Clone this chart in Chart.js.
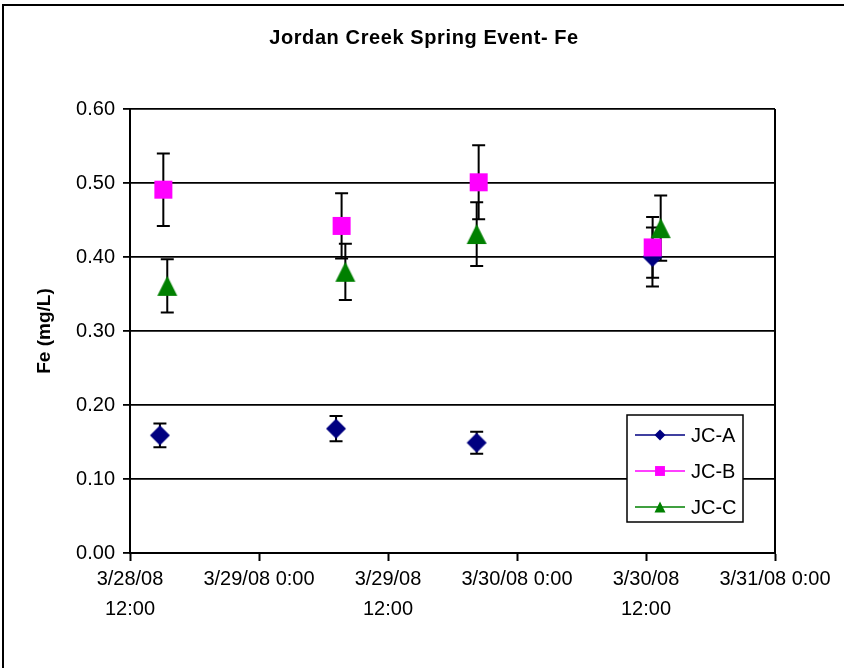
<!DOCTYPE html>
<html>
<head>
<meta charset="utf-8">
<title>Jordan Creek Spring Event- Fe</title>
<script src="https://cdn.jsdelivr.net/npm/chart.js@4/dist/chart.umd.min.js"></script>
<style>
  html, body { margin: 0; padding: 0; background: #fff; }
  #wrap { width: 844px; height: 668px; }
</style>
</head>
<body>
<div id="wrap"><canvas id="chart" width="844" height="668"></canvas></div>
<script>
// Sampling times, Fe concentrations (mg/L) and error-bar half widths per site
const axisStart = "3/28/08 12:00";
const axisEnd = "3/31/08 0:00";
const seriesNames = ["JC-A", "JC-B", "JC-C"];
const timesA = ["3/28/08 14:47", "3/29/08 7:10", "3/29/08 20:15", "3/30/08 12:36"];
const timesB = ["3/28/08 15:06", "3/29/08 7:41", "3/29/08 20:26", "3/30/08 12:37"];
const timesC = ["3/28/08 15:28", "3/29/08 8:02", "3/29/08 20:15", "3/30/08 13:22"];
const feA = [0.159, 0.168, 0.149, 0.400];
const feB = [0.491, 0.442, 0.501, 0.413];
const feC = [0.361, 0.380, 0.431, 0.439];
const errA = [0.016, 0.017, 0.015, 0.040];
const errB = [0.049, 0.044, 0.050, 0.041];
const errC = [0.036, 0.038, 0.043, 0.044];
const xTickLabels = [["3/28/08", "12:00"], "3/29/08 0:00", ["3/29/08", "12:00"], "3/30/08 0:00", ["3/30/08", "12:00"], "3/31/08 0:00"];
const yTickLabels = ["0.00", "0.10", "0.20", "0.30", "0.40", "0.50", "0.60"];

const FONT = "'Liberation Sans', Arial, sans-serif";
const colors = ["#000080", "#FF00FF", "#008000"];
const shapes = ["diamond", "square", "triangle"];

// "M/D/YY H:MM" -> hours since the start of the axis
function toMs(s) {
  const [d, t] = s.split(" ");
  const [m, day, yy] = d.split("/").map(Number);
  const [h, mi] = t.split(":").map(Number);
  return Date.UTC(2000 + yy, m - 1, day, h, mi);
}
const t0 = toMs(axisStart);
const hours = s => (toMs(s) - t0) / 3600000;
const xMax = hours(axisEnd);

function shapePath(ctx, shape, cx, cy, s) {
  ctx.beginPath();
  if (shape === "diamond") {
    ctx.moveTo(cx, cy - s); ctx.lineTo(cx + s, cy); ctx.lineTo(cx, cy + s); ctx.lineTo(cx - s, cy);
  } else if (shape === "square") {
    ctx.rect(cx - s * 0.9, cy - s * 0.9, s * 1.8, s * 1.8);
  } else {
    ctx.moveTo(cx, cy - s); ctx.lineTo(cx + s, cy + s); ctx.lineTo(cx - s, cy + s);
  }
  ctx.closePath();
}

function markerCanvas(shape, color) {
  const c = document.createElement("canvas");
  c.width = 22; c.height = 22;
  const g = c.getContext("2d");
  g.fillStyle = color;
  shapePath(g, shape, 11, 11, 10);
  g.fill();
  return c;
}

function pointsOf(times, vals) {
  return times.map((t, i) => ({ x: hours(t), y: vals[i] }));
}

const allTimes = [timesA, timesB, timesC];
const allVals = [feA, feB, feC];
const allErr = [errA, errB, errC];

const datasets = seriesNames.map((name, i) => ({
  label: name,
  data: pointsOf(allTimes[i], allVals[i]),
  errors: allErr[i],
  showLine: false,
  pointStyle: markerCanvas(shapes[i], colors[i]),
  pointRadius: 10,
  pointHoverRadius: 10,
  borderColor: colors[i],
  backgroundColor: colors[i],
  order: 3 - i
}));

const pageBackground = {
  id: "pageBackground",
  beforeDraw(chart) {
    const { ctx, width, height } = chart;
    ctx.save();
    ctx.fillStyle = "#fff";
    ctx.fillRect(0, 0, width, height);
    ctx.strokeStyle = "#000";
    ctx.lineWidth = 2;
    ctx.beginPath();
    ctx.moveTo(3, height + 2); ctx.lineTo(3, 5); ctx.lineTo(width + 2, 5);
    ctx.stroke();
    ctx.restore();
  }
};

const chartTitle = {
  id: "chartTitle",
  afterDraw(chart) {
    const ctx = chart.ctx;
    ctx.save();
    ctx.font = "bold 20px " + FONT;
    if ("letterSpacing" in ctx) ctx.letterSpacing = "0.6px";
    ctx.fillStyle = "#000";
    ctx.textAlign = "center";
    ctx.textBaseline = "middle";
    ctx.fillText("Jordan Creek Spring Event- Fe", 424, 38);
    ctx.restore();
  }
};

const errorBars = {
  id: "errorBars",
  beforeDatasetsDraw(chart) {
    const ctx = chart.ctx;
    const yScale = chart.scales.y;
    ctx.save();
    ctx.strokeStyle = "#000";
    ctx.lineWidth = 2;
    chart.data.datasets.forEach((ds, di) => {
      const meta = chart.getDatasetMeta(di);
      meta.data.forEach((pt, j) => {
        const v = ds.data[j].y, e = ds.errors[j];
        const yTop = yScale.getPixelForValue(v + e);
        const yBot = yScale.getPixelForValue(v - e);
        const x = pt.x;
        ctx.beginPath();
        ctx.moveTo(x, yTop); ctx.lineTo(x, yBot);
        ctx.moveTo(x - 6.5, yTop); ctx.lineTo(x + 6.5, yTop);
        ctx.moveTo(x - 6.5, yBot); ctx.lineTo(x + 6.5, yBot);
        ctx.stroke();
      });
    });
    ctx.restore();
  }
};

const plotFrame = {
  id: "plotFrame",
  beforeDatasetsDraw(chart) {
    const { ctx, chartArea } = chart;
    ctx.save();
    ctx.strokeStyle = "#000";
    ctx.lineWidth = 2;
    ctx.beginPath();
    ctx.moveTo(chartArea.right, chartArea.top);
    ctx.lineTo(chartArea.right, chartArea.bottom);
    ctx.stroke();
    ctx.restore();
  }
};

const seriesLegend = {
  id: "seriesLegend",
  afterDraw(chart) {
    const ctx = chart.ctx;
    const box = { x: 627, y: 415, w: 116, h: 107 };
    ctx.save();
    ctx.fillStyle = "#fff";
    ctx.fillRect(box.x, box.y, box.w, box.h);
    ctx.strokeStyle = "#000";
    ctx.lineWidth = 1.5;
    ctx.strokeRect(box.x, box.y, box.w, box.h);
    ctx.font = "20px " + FONT;
    ctx.textBaseline = "middle";
    ctx.textAlign = "left";
    seriesNames.forEach((name, i) => {
      const y = 435 + i * 36;
      ctx.strokeStyle = colors[i];
      ctx.lineWidth = 1.5;
      ctx.beginPath();
      ctx.moveTo(635, y); ctx.lineTo(685, y);
      ctx.stroke();
      ctx.fillStyle = colors[i];
      shapePath(ctx, shapes[i], 660, y, 5.5);
      ctx.fill();
      ctx.fillStyle = "#000";
      ctx.fillText(name, 691, y + 1);
    });
    ctx.restore();
  }
};

new Chart(document.getElementById("chart"), {
  type: "scatter",
  data: { datasets },
  plugins: [pageBackground, plotFrame, errorBars, chartTitle, seriesLegend],
  options: {
    responsive: false,
    animation: false,
    events: [],
    layout: { padding: { top: 109, right: 69, bottom: 0, left: 0 } },
    plugins: {
      legend: { display: false },
      tooltip: { enabled: false },
      title: { display: false }
    },
    scales: {
      x: {
        type: "linear",
        min: 0,
        max: xMax,
        afterFit(scale) { scale.height = 115; },
        afterBuildTicks(scale) {
          scale.ticks = xTickLabels.map((_, i) => ({ value: i * 12 }));
        },
        ticks: {
          autoSkip: false,
          maxRotation: 0,
          minRotation: 0,
          padding: 3,
          color: "#000",
          font: { family: FONT, size: 20, lineHeight: 1.5 },
          callback: (v) => xTickLabels[Math.round(v / 12)]
        },
        grid: {
          drawOnChartArea: false,
          drawTicks: true,
          tickLength: 8,
          tickColor: "#000",
          tickWidth: 2
        },
        border: { display: true, color: "#000", width: 2 }
      },
      y: {
        min: 0,
        max: 0.6,
        afterFit(scale) { scale.width = 130; },
        afterBuildTicks(scale) {
          scale.ticks = yTickLabels.map(t => ({ value: parseFloat(t) }));
        },
        ticks: {
          padding: 8,
          color: "#000",
          font: { family: FONT, size: 20 },
          callback: (v) => yTickLabels[Math.round(v * 10)]
        },
        grid: {
          color: "#000",
          lineWidth: 1.8,
          drawTicks: true,
          tickLength: 7,
          tickColor: "#000",
          tickWidth: 1.8
        },
        border: { display: true, color: "#000", width: 2 },
        title: {
          display: true,
          text: "Fe (mg/L)",
          color: "#000",
          font: { family: FONT, size: 19, weight: "bold" },
          padding: { top: 33, bottom: 0 }
        }
      }
    }
  }
});
</script>
</body>
</html>
